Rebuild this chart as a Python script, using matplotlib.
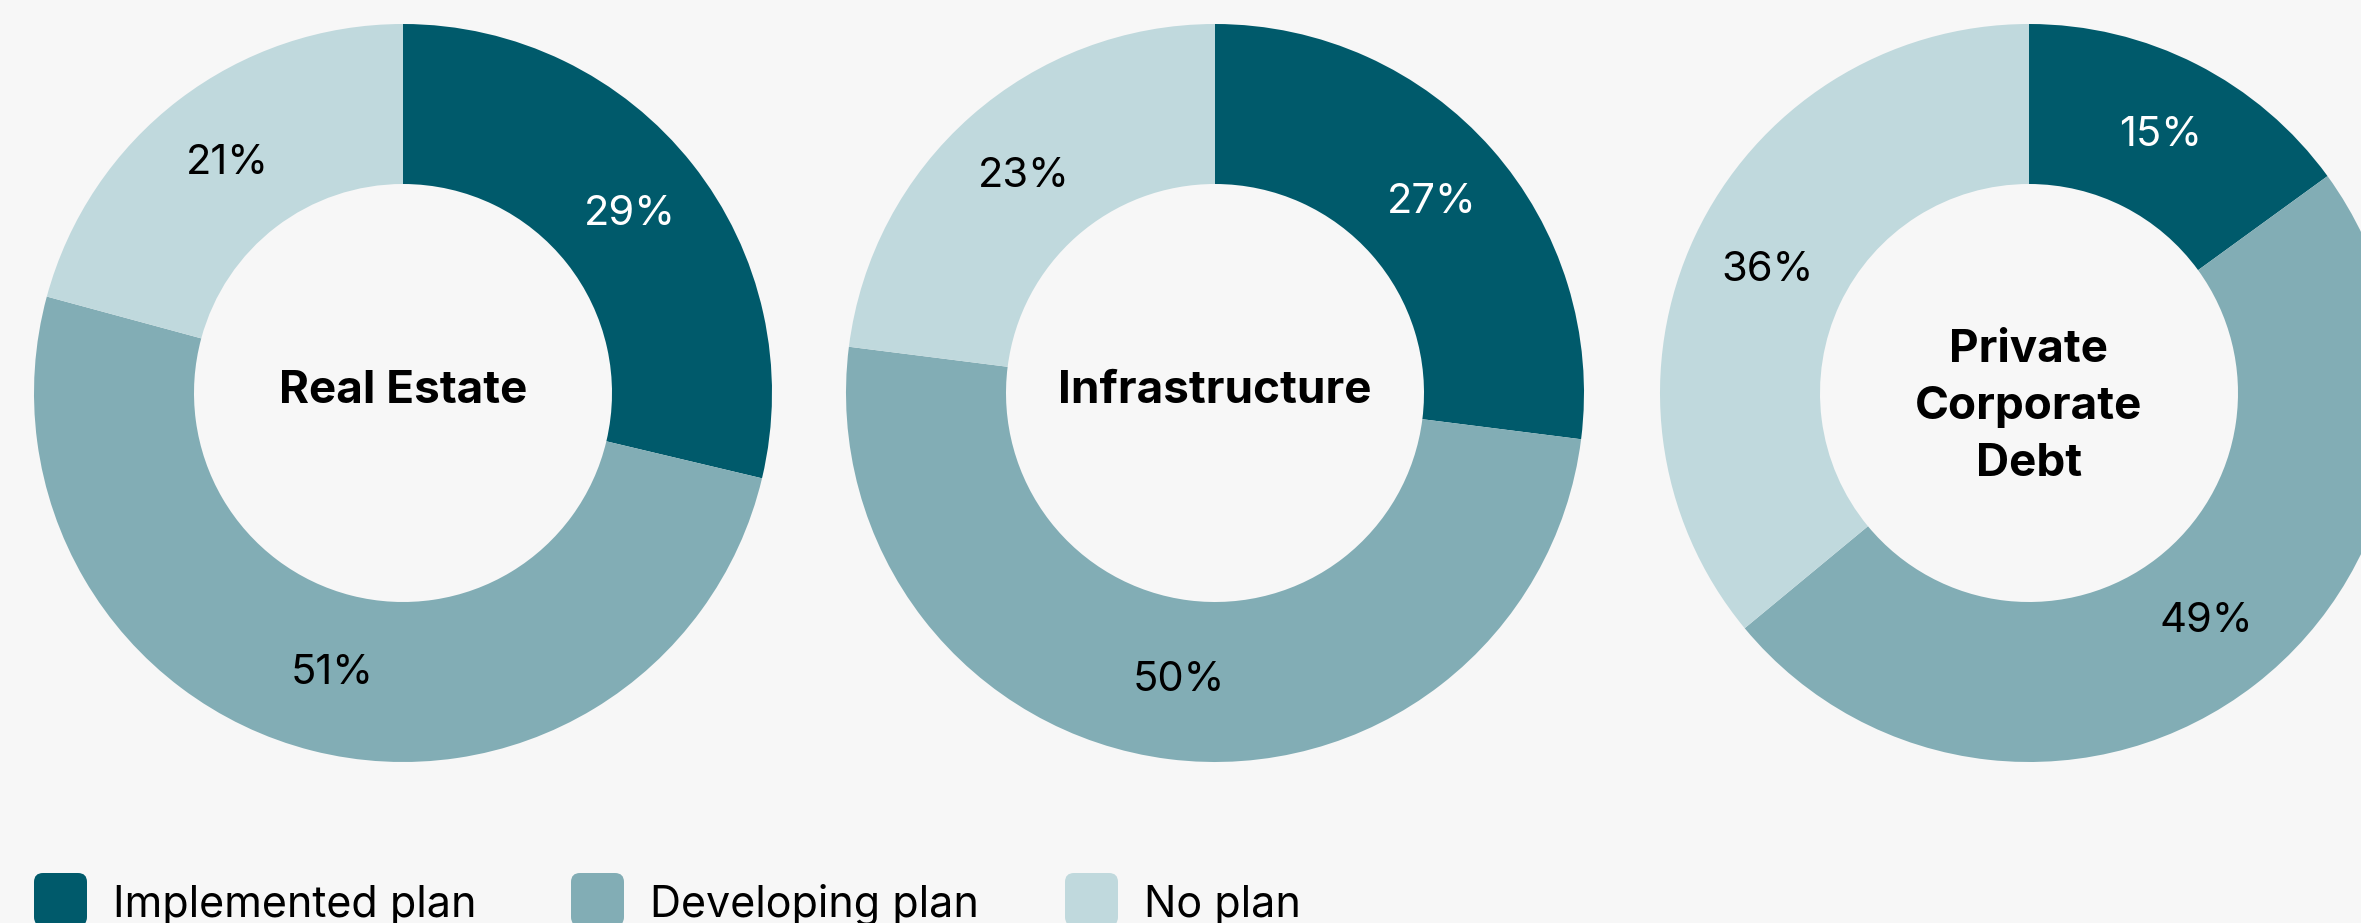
import matplotlib.pyplot as plt
from matplotlib.patches import FancyBboxPatch

plt.rcParams['font.family'] = ['Inter', 'DejaVu Sans']

# share of respondents by plan status, clockwise from 12 o'clock
categories = ['Implemented plan', 'Developing plan', 'No plan']
assets = ['Real Estate', 'Infrastructure', 'Private\nCorporate\nDebt']
real_estate = [29, 51, 21]
infrastructure = [27, 50, 23]
private_debt = [15, 49, 36]
series = [real_estate, infrastructure, private_debt]

colors = ['#005a6b', '#82adb5', '#c0d9dd']
label_colors = ['white', 'black', 'black']
bg = '#f7f7f7'

W, H = 2361, 923
fig = plt.figure(figsize=(W / 100, H / 100), dpi=100, facecolor=bg)
ax = fig.add_axes([0, 0, 1, 1])
ax.set_xlim(0, W)
ax.set_ylim(0, H)
ax.set_aspect('equal')
ax.axis('off')
ax.set_facecolor(bg)

centers_x = [403, 1215, 2029]
cy = H - 393
r_out, r_in = 369, 209
ring = r_out - r_in

for cx, vals, name in zip(centers_x, series, assets):
    wedges, texts = ax.pie(
        vals, center=(cx, cy), radius=r_out, startangle=90, counterclock=False,
        colors=colors, labels=[f'{v}%' for v in vals],
        labeldistance=(r_in + ring / 2) / r_out,
        wedgeprops=dict(width=ring, linewidth=0),
        textprops=dict(fontsize=30, ha='center', va='center'),
    )
    for t, c in zip(texts, label_colors):
        t.set_color(c)
    dy = 2 if '\n' not in name else -14
    ax.text(cx, cy + dy, name, ha='center', va='center', fontsize=33,
            fontweight='bold', color='black', linespacing=1.45)

# legend along the bottom edge
legend_x = [34, 571, 1065]
sq = 53
for x, c, lab in zip(legend_x, colors, categories):
    ax.add_patch(FancyBboxPatch((x, H - 873 - sq), sq, sq,
                                boxstyle='round,pad=0,rounding_size=9',
                                facecolor=c, edgecolor='none', clip_on=False))
    ax.text(x + sq + 26, H - 917, lab, ha='left', va='baseline',
            fontsize=31, color='black')

ax.set_xlim(0, W)
ax.set_ylim(0, H)
fig.savefig('out.png', dpi=100, facecolor=bg)
